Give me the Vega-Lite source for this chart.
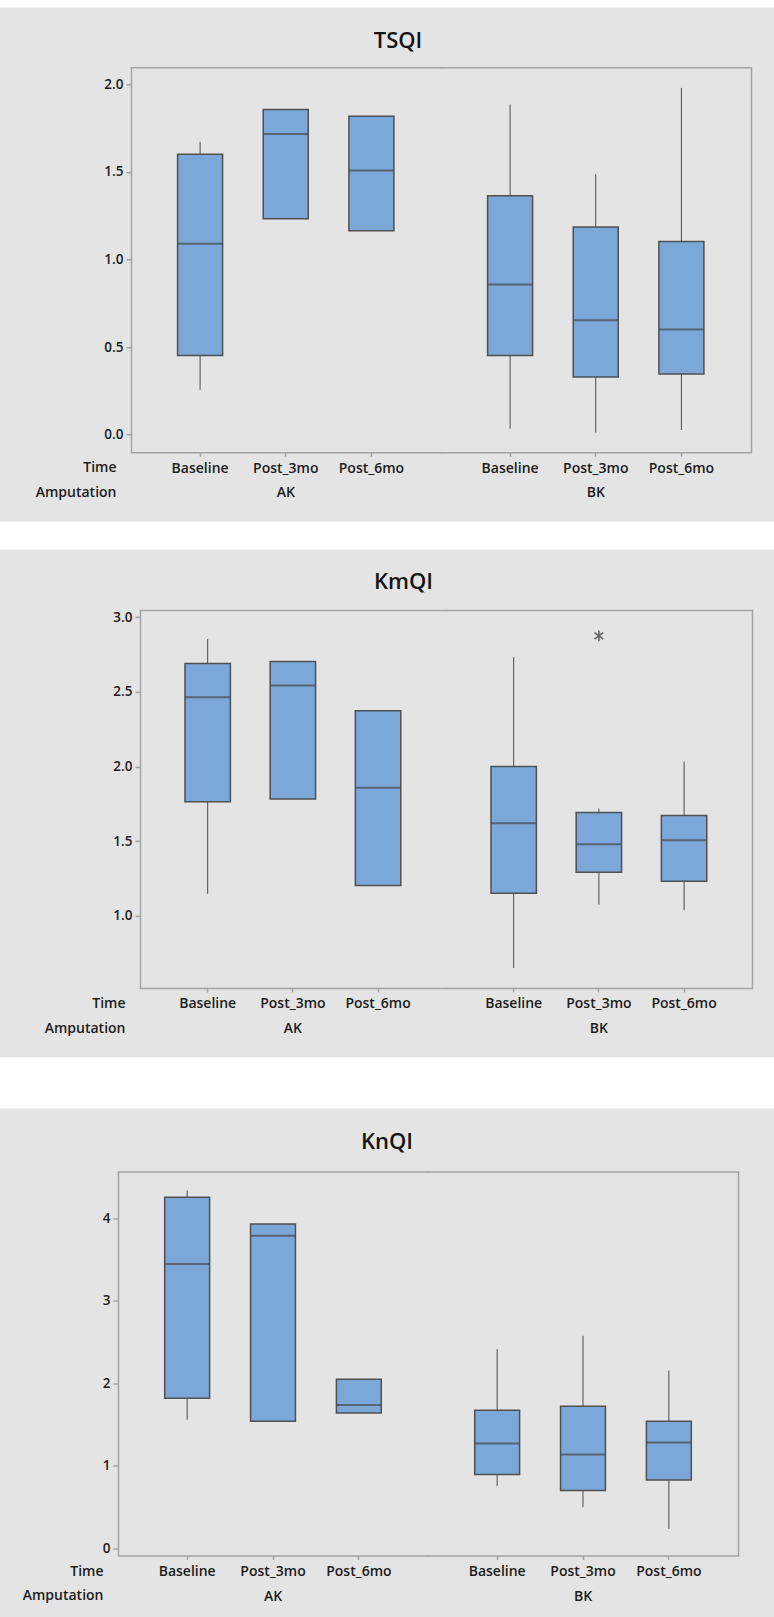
{
  "$schema": "https://vega.github.io/schema/vega-lite/v6.json",
  "background": "#e4e4e4",
  "padding": {"left": 0, "top": 0, "right": 0, "bottom": 14},
  "config": {
    "view": {"stroke": null},
    "font": "Open Sans",
    "axis": {
      "grid": false,
      "labelFont": "Open Sans",
      "labelFontWeight": 600,
      "labelFontSize": 14,
      "labelColor": "#1c1c1c",
      "titleFont": "Open Sans",
      "titleFontWeight": 600,
      "titleFontSize": 14,
      "titleColor": "#1c1c1c",
      "domainColor": "#a3a3a3",
      "domainWidth": 1.5,
      "domainCap": "square",
      "tickColor": "#a3a3a3",
      "tickWidth": 1.5
    },
    "header": {
      "labelFont": "Open Sans",
      "labelFontWeight": 600,
      "labelFontSize": 14,
      "labelColor": "#1c1c1c"
    },
    "title": {
      "font": "Open Sans",
      "fontWeight": 600,
      "fontSize": 22,
      "color": "#141414",
      "baseline": "alphabetic",
      "anchor": "middle",
      "frame": "group"
    }
  },
  "datasets": {
    "tsqi": [
      {"Amputation": "AK", "Time": "Baseline", "lo": 0.257, "q1": 0.452, "med": 1.089, "q3": 1.600, "hi": 1.672},
      {"Amputation": "AK", "Time": "Post_3mo", "lo": 1.232, "q1": 1.232, "med": 1.716, "q3": 1.855, "hi": 1.855},
      {"Amputation": "AK", "Time": "Post_6mo", "lo": 1.164, "q1": 1.164, "med": 1.508, "q3": 1.817, "hi": 1.817},
      {"Amputation": "BK", "Time": "Baseline", "lo": 0.035, "q1": 0.452, "med": 0.857, "q3": 1.363, "hi": 1.884},
      {"Amputation": "BK", "Time": "Post_3mo", "lo": 0.012, "q1": 0.330, "med": 0.653, "q3": 1.185, "hi": 1.486},
      {"Amputation": "BK", "Time": "Post_6mo", "lo": 0.027, "q1": 0.346, "med": 0.600, "q3": 1.102, "hi": 1.979}
    ],
    "kmqi": [
      {"Amputation": "AK", "Time": "Baseline", "lo": 1.147, "q1": 1.764, "med": 2.464, "q3": 2.690, "hi": 2.855},
      {"Amputation": "AK", "Time": "Post_3mo", "lo": 1.782, "q1": 1.782, "med": 2.544, "q3": 2.704, "hi": 2.704},
      {"Amputation": "AK", "Time": "Post_6mo", "lo": 1.203, "q1": 1.203, "med": 1.859, "q3": 2.374, "hi": 2.374},
      {"Amputation": "BK", "Time": "Baseline", "lo": 0.650, "q1": 1.151, "med": 1.621, "q3": 2.001, "hi": 2.733},
      {"Amputation": "BK", "Time": "Post_3mo", "lo": 1.075, "q1": 1.292, "med": 1.479, "q3": 1.692, "hi": 1.719},
      {"Amputation": "BK", "Time": "Post_3mo", "out": 2.876},
      {"Amputation": "BK", "Time": "Post_6mo", "lo": 1.038, "q1": 1.231, "med": 1.506, "q3": 1.673, "hi": 2.033}
    ],
    "knqi": [
      {"Amputation": "AK", "Time": "Baseline", "lo": 1.556, "q1": 1.818, "med": 3.446, "q3": 4.255, "hi": 4.335},
      {"Amputation": "AK", "Time": "Post_3mo", "lo": 1.539, "q1": 1.539, "med": 3.786, "q3": 3.931, "hi": 3.931},
      {"Amputation": "AK", "Time": "Post_6mo", "lo": 1.640, "q1": 1.640, "med": 1.737, "q3": 2.048, "hi": 2.048},
      {"Amputation": "BK", "Time": "Baseline", "lo": 0.752, "q1": 0.893, "med": 1.269, "q3": 1.673, "hi": 2.412},
      {"Amputation": "BK", "Time": "Post_3mo", "lo": 0.497, "q1": 0.699, "med": 1.135, "q3": 1.721, "hi": 2.574},
      {"Amputation": "BK", "Time": "Post_6mo", "lo": 0.234, "q1": 0.828, "med": 1.281, "q3": 1.539, "hi": 2.154}
    ]
  },
  "spacing": 21.3,
  "vconcat": [
    {"width": 774, "height": 7.5, "data": {"values": []}, "mark": "point", "view": {"fill": "white", "stroke": null}},
    {
      "spacing": 0,
      "hconcat": [
        {"width": 34.2, "height": 1, "data": {"values": []}, "mark": "point"},
        {
          "data": {"name": "tsqi"},
          "title": {"text": "TSQI", "offset": 14.4, "dx": 267},
          "facet": {"column": {"field": "Amputation", "type": "nominal", "header": {"title": null, "labelOrient": "bottom", "labelPadding": 11}}},
          "spacing": 0,
          "spec": {
            "width": 309.5,
            "height": 384.6,
            "resolve": {"axis": {"x": "independent", "y": "independent"}},
            "layer": [
              {
                "mark": {"type": "rule", "color": "#4a4a4a", "strokeWidth": 1},
                "encoding": {
                  "x": {"field": "Time", "type": "nominal", "scale": {"type": "band", "paddingInner": 0.4746, "paddingOuter": 0.544},
                        "axis": {"title": null, "labelAngle": 0, "tickSize": 4, "labelPadding": 5}},
                  "y": {"field": "lo", "type": "quantitative", "scale": {"domain": [-0.098, 2.0965], "nice": false, "zero": false},
                        "axis": {"values": [0, 0.5, 1, 1.5, 2], "format": ".1f", "tickSize": 5, "labelPadding": 3, "labelFontSize": 13.5,
                                 "title": ["Time", "Amputation"], "titleAngle": 0, "titleAlign": "right", "titleBaseline": "alphabetic",
                                 "titleX": -15, "titleY": 404.6, "titleLineHeight": 25}},
                  "y2": {"field": "hi"}
                }
              },
              {
                "mark": {"type": "bar", "fill": "#7ba7d9", "stroke": "#505050", "strokeWidth": 1.5},
                "encoding": {
                  "x": {"field": "Time", "type": "nominal", "axis": {"orient": "top", "labels": false, "ticks": false, "title": null}},
                  "y": {"field": "q1", "type": "quantitative", "axis": {"orient": "right", "labels": false, "ticks": false, "title": null}},
                  "y2": {"field": "q3"}
                }
              },
              {
                "mark": {"type": "tick", "color": "#474747", "thickness": 2},
                "encoding": {
                  "x": {"field": "Time", "type": "nominal", "axis": null},
                  "y": {"field": "med", "type": "quantitative", "axis": null},
                  "size": {"value": 45}
                }
              }
            ]
          }
        }
      ]
    },
    {"width": 774, "height": 27.8, "data": {"values": []}, "mark": "point", "view": {"fill": "white", "stroke": null}},
    {
      "spacing": 0,
      "hconcat": [
        {"width": 43.4, "height": 1, "data": {"values": []}, "mark": "point"},
        {
          "data": {"name": "kmqi"},
          "title": {"text": "KmQI", "offset": 16, "dx": 263.5},
          "facet": {"column": {"field": "Amputation", "type": "nominal", "header": {"title": null, "labelOrient": "bottom", "labelPadding": 11}}},
          "spacing": 0,
          "spec": {
            "width": 305.75,
            "height": 377.4,
            "resolve": {"axis": {"x": "independent", "y": "independent"}},
            "layer": [
              {
                "mark": {"type": "rule", "color": "#4a4a4a", "strokeWidth": 1},
                "encoding": {
                  "x": {"field": "Time", "type": "nominal", "scale": {"type": "band", "paddingInner": 0.467, "paddingOuter": 0.528},
                        "axis": {"title": null, "labelAngle": 0, "tickSize": 4, "labelPadding": 5}},
                  "y": {"field": "lo", "type": "quantitative", "scale": {"domain": [0.521, 3.05], "nice": false, "zero": false},
                        "axis": {"values": [1, 1.5, 2, 2.5, 3], "format": ".1f", "tickSize": 5, "labelPadding": 3, "labelFontSize": 13.5,
                                 "title": ["Time", "Amputation"], "titleAngle": 0, "titleAlign": "right", "titleBaseline": "alphabetic",
                                 "titleX": -15, "titleY": 398, "titleLineHeight": 24.4}},
                  "y2": {"field": "hi"}
                }
              },
              {
                "mark": {"type": "bar", "fill": "#7ba7d9", "stroke": "#505050", "strokeWidth": 1.5},
                "encoding": {
                  "x": {"field": "Time", "type": "nominal", "axis": {"orient": "top", "labels": false, "ticks": false, "title": null}},
                  "y": {"field": "q1", "type": "quantitative", "axis": {"orient": "right", "labels": false, "ticks": false, "title": null}},
                  "y2": {"field": "q3"}
                }
              },
              {
                "mark": {"type": "tick", "color": "#474747", "thickness": 2},
                "encoding": {
                  "x": {"field": "Time", "type": "nominal", "axis": null},
                  "y": {"field": "med", "type": "quantitative", "axis": null},
                  "size": {"value": 45}
                }
              },
              {
                "mark": {"type": "point", "shape": "M0,-1L0,1M-0.8,-0.6L0.8,0.6M-0.8,0.6L0.8,-0.6", "filled": false, "stroke": "#303030", "strokeWidth": 1.6, "size": 120},
                "encoding": {
                  "x": {"field": "Time", "type": "nominal", "axis": null},
                  "y": {"field": "out", "type": "quantitative", "axis": null}
                }
              }
            ]
          }
        }
      ]
    },
    {"width": 774, "height": 51.2, "data": {"values": []}, "mark": "point", "view": {"fill": "white", "stroke": null}},
    {
      "spacing": 0,
      "hconcat": [
        {"width": 21.7, "height": 1, "data": {"values": []}, "mark": "point"},
        {
          "data": {"name": "knqi"},
          "title": {"text": "KnQI", "offset": 17.7, "dx": 269},
          "facet": {"column": {"field": "Amputation", "type": "nominal", "header": {"title": null, "labelOrient": "bottom", "labelPadding": 11}}},
          "spacing": 0,
          "spec": {
            "width": 310,
            "height": 383.3,
            "resolve": {"axis": {"x": "independent", "y": "independent"}},
            "layer": [
              {
                "mark": {"type": "rule", "color": "#4a4a4a", "strokeWidth": 1},
                "encoding": {
                  "x": {"field": "Time", "type": "nominal", "scale": {"type": "band", "paddingInner": 0.477, "paddingOuter": 0.544},
                        "axis": {"title": null, "labelAngle": 0, "tickSize": 4, "labelPadding": 5}},
                  "y": {"field": "lo", "type": "quantitative", "scale": {"domain": [-0.08, 4.566], "nice": false, "zero": false},
                        "axis": {"values": [0, 1, 2, 3, 4], "format": "d", "tickSize": 5, "labelPadding": 3, "labelFontSize": 13.5,
                                 "title": ["Time", "Amputation"], "titleAngle": 0, "titleAlign": "right", "titleBaseline": "alphabetic",
                                 "titleX": -15, "titleY": 404, "titleLineHeight": 24}},
                  "y2": {"field": "hi"}
                }
              },
              {
                "mark": {"type": "bar", "fill": "#7ba7d9", "stroke": "#505050", "strokeWidth": 1.5},
                "encoding": {
                  "x": {"field": "Time", "type": "nominal", "axis": {"orient": "top", "labels": false, "ticks": false, "title": null}},
                  "y": {"field": "q1", "type": "quantitative", "axis": {"orient": "right", "labels": false, "ticks": false, "title": null}},
                  "y2": {"field": "q3"}
                }
              },
              {
                "mark": {"type": "tick", "color": "#474747", "thickness": 2},
                "encoding": {
                  "x": {"field": "Time", "type": "nominal", "axis": null},
                  "y": {"field": "med", "type": "quantitative", "axis": null},
                  "size": {"value": 45}
                }
              }
            ]
          }
        }
      ]
    }
  ]
}
